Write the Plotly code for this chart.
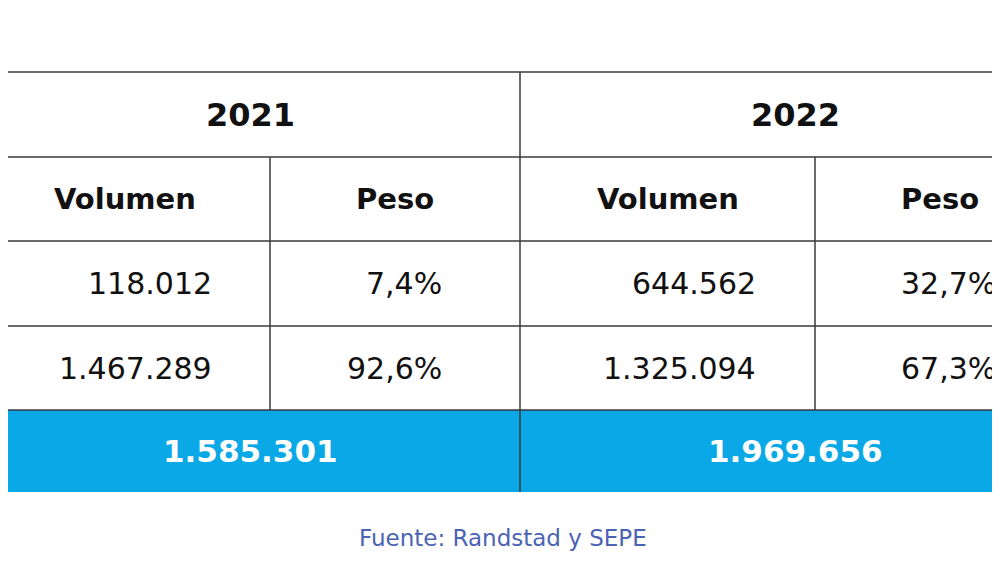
import plotly.graph_objects as go

title = "va de contratación de menores de 25 años en el prime"
years = ["2021", "2022"]
subheads = ["Volumen", "Peso", "Volumen", "Peso"]
rows = [
    ["118.012", "7,4%", "644.562", "32,7%"],
    ["1.467.289", "92,6%", "1.325.094", "67,3%"],
]
totals = ["1.585.301", "1.969.656"]
source = "Fuente: Randstad y SEPE"

# layout in pixel units of the browser window
col_edges = [-20, 270, 520, 815, 1060]
row_edges = [72, 157, 241, 326, 410, 492]
blue = "#0aa8e6"
line_col = "#3a3a3a"
font = "DejaVu Sans"
off = 8  # page body margin

fig = go.Figure()
shapes = []
ann = []

shapes.append(dict(type="rect", x0=-20, x1=1060, y0=row_edges[4], y1=row_edges[5],
                   fillcolor=blue, line_width=0, layer="below"))
for y in row_edges[:5]:
    shapes.append(dict(type="line", x0=-20, x1=1060, y0=y, y1=y,
                       line=dict(color=line_col, width=1.5)))
shapes.append(dict(type="line", x0=col_edges[2], x1=col_edges[2], y0=row_edges[0], y1=row_edges[5],
                   line=dict(color=line_col, width=1.5)))
for x in (col_edges[1], col_edges[3]):
    shapes.append(dict(type="line", x0=x, x1=x, y0=row_edges[1], y1=row_edges[4],
                       line=dict(color=line_col, width=1.5)))

def mid(a, i):
    return (a[i] + a[i + 1]) / 2

year_x = [250, 795]
total_x = [250, 795]
centers = [125, 395, 668, 940]
for i, y in enumerate(years):
    ann.append(dict(x=year_x[i], y=mid(row_edges, 0), text="<b>%s</b>" % y,
                    font=dict(size=32, color="#111", family=font), showarrow=False))
    ann.append(dict(x=total_x[i], y=mid(row_edges, 4), text="<b>%s</b>" % totals[i],
                    font=dict(size=31, color="white", family=font), showarrow=False))
for j, s in enumerate(subheads):
    ann.append(dict(x=centers[j], y=mid(row_edges, 1), text="<b>%s</b>" % s,
                    font=dict(size=29, color="#111", family=font), showarrow=False))
right_edges = [214, 444, 758, 998]
for r, row in enumerate(rows):
    for j, v in enumerate(row):
        ann.append(dict(x=right_edges[j], y=mid(row_edges, 2 + r), text=v, xanchor="right",
                        font=dict(size=30, color="#111", family=font), showarrow=False))

ann.append(dict(x=0, y=30, text="<b>%s</b>" % title, xanchor="left",
                font=dict(size=28, color="#3f6cc2", family=font), showarrow=False))
ann.append(dict(x=503, y=538, text=source,
                font=dict(size=23, color="#4a63b5", family=font), showarrow=False))

fig.update_layout(
    width=1000, height=567, margin=dict(l=0, r=0, t=0, b=0),
    plot_bgcolor="white", paper_bgcolor="white",
    xaxis=dict(range=[off, 1000 + off], visible=False, fixedrange=True),
    yaxis=dict(range=[567 + off, off], visible=False, fixedrange=True),
    shapes=shapes, annotations=ann, showlegend=False,
)
fig.write_html("out.html")
